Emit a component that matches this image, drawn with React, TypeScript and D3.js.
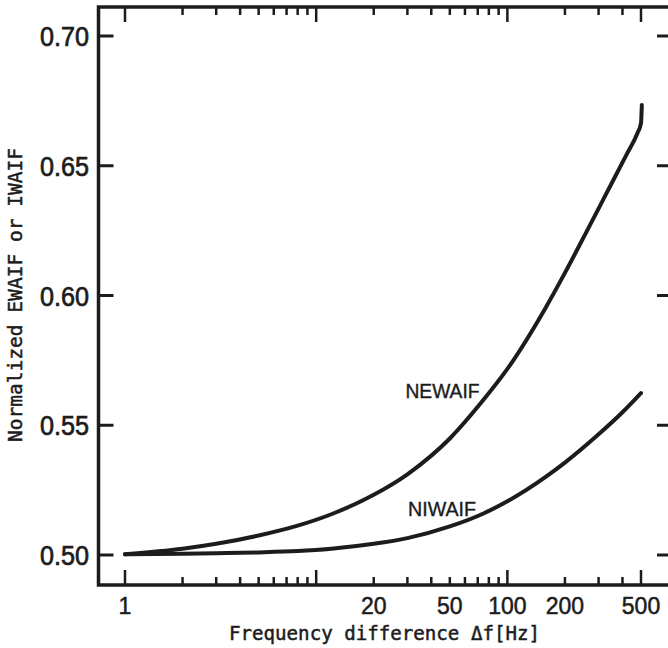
import React from 'react';
import * as d3 from 'd3';

// NEWAIF series (frequency difference in Hz, normalized value)
const newFreq = [1, 2, 3, 5, 8, 12, 20, 30, 50, 75, 100, 160, 200, 260, 320, 420, 480, 500, 505];
const newVals = [0.5003, 0.5024, 0.5043, 0.5075, 0.5113, 0.5157, 0.5232, 0.5311, 0.5449, 0.5598, 0.5717, 0.5958, 0.6087, 0.6247, 0.6375, 0.6543, 0.6627, 0.6664, 0.6734];

// NIWAIF series
const niFreq = [1, 2, 3, 5, 8, 12, 20, 30, 50, 75, 100, 160, 200, 300, 400, 500];
const niVals = [0.5003, 0.5005, 0.5007, 0.5010, 0.5015, 0.5024, 0.5043, 0.5065, 0.5110, 0.5160, 0.5207, 0.5303, 0.5356, 0.5465, 0.5550, 0.5624];

const xTickValues = [1, 2, 3, 4, 5, 6, 7, 8, 9, 10, 20, 30, 40, 50, 60, 70, 80, 90, 100, 200, 300, 400, 500];
const xMajorTicks = [1, 10, 100, 500];
const xTickLabels = [1, 20, 50, 100, 200, 500];
const yTickValues = [0.5, 0.55, 0.6, 0.65, 0.7];

const W = 668;
const H = 648;
const frame = { left: 98.5, right: 672, top: 7, bottom: 585 };
const ink = '#1c1c1c';

export default function App() {
  const x = d3.scaleLog().domain([1, 500]).range([125, 641]);
  const y = d3.scaleLinear().domain([0.5, 0.7]).range([555, 36]);

  const line = d3
    .line<[number, number]>()
    .x((d) => x(d[0]))
    .y((d) => y(d[1]))
    .curve(d3.curveMonotoneX);

  const newPts = newFreq.map((f, i) => [f, newVals[i]] as [number, number]);
  const niPts = niFreq.map((f, i) => [f, niVals[i]] as [number, number]);

  const framePath = `M${frame.left},${frame.top}H${frame.right}V${frame.bottom}H${frame.left}Z`;
  const sans = "'Liberation Sans', Arial, sans-serif";
  const mono = "'DejaVu Sans Mono', monospace";

  return (
    <svg
      width={W}
      height={H}
      style={{ position: 'absolute', left: 0, top: 0, background: '#fff' }}
    >
      <rect x={0} y={0} width={W} height={H} fill="#fff" />
      <path d={framePath} fill="none" stroke={ink} strokeWidth={3.5} />

      {xTickValues.map((v) => {
        const len = xMajorTicks.includes(v) ? 15 : 8;
        const px = x(v);
        return (
          <g key={'xt' + v}>
            <line x1={px} x2={px} y1={frame.bottom} y2={frame.bottom - len} stroke={ink} strokeWidth={2.5} />
            <line x1={px} x2={px} y1={frame.top} y2={frame.top + len} stroke={ink} strokeWidth={2.5} />
          </g>
        );
      })}

      {yTickValues.map((v) => {
        const py = y(v);
        return (
          <g key={'yt' + v}>
            <line x1={frame.left} x2={frame.left + 15} y1={py} y2={py} stroke={ink} strokeWidth={3} />
            <line x1={frame.right} x2={frame.right - 15} y1={py} y2={py} stroke={ink} strokeWidth={3} />
            <text
              x={89}
              y={py + 10}
              textAnchor="end"
              fontFamily={sans}
              fontSize={27}
              fill={ink}
              stroke={ink}
              strokeWidth={0.7}
              textLength={49}
              lengthAdjust="spacingAndGlyphs"
            >
              {d3.format('.2f')(v)}
            </text>
          </g>
        );
      })}

      {xTickLabels.map((v) => (
        <text
          key={'xl' + v}
          x={x(v)}
          y={613.5}
          textAnchor="middle"
          fontFamily={sans}
          fontSize={23}
          fill={ink}
          stroke={ink}
          strokeWidth={0.5}
        >
          {String(v)}
        </text>
      ))}

      <path d={line(newPts) || ''} fill="none" stroke={ink} strokeWidth={4} strokeLinecap="round" strokeLinejoin="round" />
      <path d={line(niPts) || ''} fill="none" stroke={ink} strokeWidth={4} strokeLinecap="round" strokeLinejoin="round" />

      <text
        x={405.5}
        y={397.5}
        fontFamily={sans}
        fontSize={20.5}
        fill={ink}
        stroke={ink}
        strokeWidth={0.4}
        textLength={74}
        lengthAdjust="spacingAndGlyphs"
      >
        NEWAIF
      </text>
      <text
        x={408}
        y={515.5}
        fontFamily={sans}
        fontSize={20.5}
        fill={ink}
        stroke={ink}
        strokeWidth={0.4}
        textLength={68}
        lengthAdjust="spacingAndGlyphs"
      >
        NIWAIF
      </text>

      <text
        x={384.5}
        y={640}
        textAnchor="middle"
        fontFamily={mono}
        fontSize={20}
        fill={ink}
        stroke={ink}
        strokeWidth={0.5}
        textLength={311}
        lengthAdjust="spacingAndGlyphs"
      >
        Frequency difference Δf[Hz]
      </text>
      <text
        transform="translate(22,295) rotate(-90)"
        textAnchor="middle"
        fontFamily={mono}
        fontSize={20}
        fill={ink}
        stroke={ink}
        strokeWidth={0.5}
        textLength={294}
        lengthAdjust="spacingAndGlyphs"
      >
        Normalized EWAIF or IWAIF
      </text>
    </svg>
  );
}
